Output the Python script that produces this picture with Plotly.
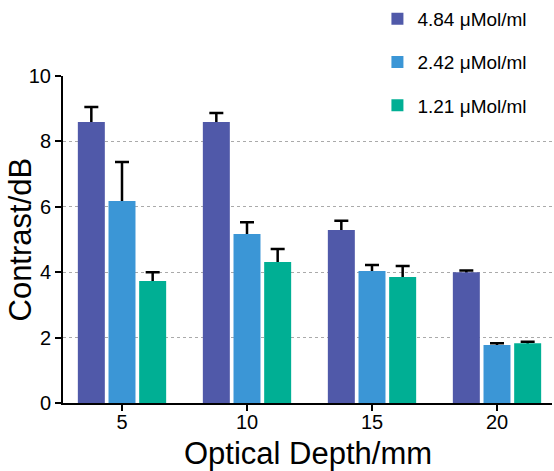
import plotly.graph_objects as go

depths = [5, 10, 15, 20]
series_names = ["4.84 μMol/ml", "2.42 μMol/ml", "1.21 μMol/ml"]
vals_484 = [8.59, 8.59, 5.29, 4.00]
vals_242 = [6.18, 5.17, 4.04, 1.77]
vals_121 = [3.73, 4.31, 3.85, 1.83]
err_484 = [0.46, 0.28, 0.28, 0.05]
err_242 = [1.19, 0.36, 0.18, 0.06]
err_121 = [0.27, 0.40, 0.34, 0.04]
colors = ["#5059A9", "#3B96D6", "#00AF94"]
y_ticks = [0, 2, 4, 6, 8, 10]

all_vals = [vals_484, vals_242, vals_121]
all_errs = [err_484, err_242, err_121]

fig = go.Figure()
# error bars first (transparent bars), so the coloured bars hide the lower cap
for i, (vals, errs) in enumerate(zip(all_vals, all_errs)):
    fig.add_trace(go.Bar(
        x=depths, y=vals, offsetgroup=str(i), showlegend=False, hoverinfo="skip",
        marker=dict(color="rgba(0,0,0,0)", line=dict(width=0)),
        error_y=dict(type="data", array=errs, arrayminus=[0.3] * len(errs), symmetric=False,
                     color="black", thickness=2.5, width=7),
    ))
for i, (name, vals) in enumerate(zip(series_names, all_vals)):
    fig.add_trace(go.Bar(
        x=depths, y=vals, name=name, offsetgroup=str(i), legendgroup=str(i),
        marker=dict(color=colors[i], line=dict(width=0)),
    ))

fig.update_layout(
    width=554, height=471,
    margin=dict(l=63, r=2, t=76, b=68, autoexpand=False),
    paper_bgcolor="white", plot_bgcolor="white",
    barmode="group", bargap=0.264, bargroupgap=0.12,
    font=dict(family="Liberation Sans, Arial, sans-serif", color="black"),
    showlegend=True,
    legend=dict(x=0.643, y=1.0, xref="paper", yref="container", xanchor="left", yanchor="top",
                font=dict(size=19), tracegroupgap=15.5, bgcolor="rgba(0,0,0,0)"),
    xaxis=dict(range=[2.64, 22.2], tickmode="array", tickvals=depths,
               ticktext=[str(d) for d in depths], automargin=False,
               showline=True, linecolor="black", linewidth=2,
               ticks="outside", ticklen=6, tickwidth=2, tickcolor="black",
               tickfont=dict(size=20), ticklabelstandoff=-6, showgrid=False, zeroline=False),
    yaxis=dict(range=[0, 10], tickmode="array", tickvals=y_ticks, automargin=False,
               showline=True, linecolor="black", linewidth=2,
               ticks="outside", ticklen=6, tickwidth=2, tickcolor="black",
               tickfont=dict(size=20), zeroline=False,
               showgrid=True, gridcolor="#aaaaaa", griddash="dot", gridwidth=1),
    annotations=[
        dict(text="Contrast/dB", textangle=-90, xref="paper", yref="paper",
             x=0, y=0.5, xanchor="center", yanchor="middle",
             xshift=-43, showarrow=False, font=dict(size=31)),
        dict(text="Optical Depth/mm", xref="paper", yref="paper",
             x=0.5, y=0, xanchor="center", yanchor="middle",
             yshift=-50, showarrow=False, font=dict(size=31)),
    ],
)
fig.write_html("out.html", post_script="document.body.style.margin='0';",
               config={"displayModeBar": False})
